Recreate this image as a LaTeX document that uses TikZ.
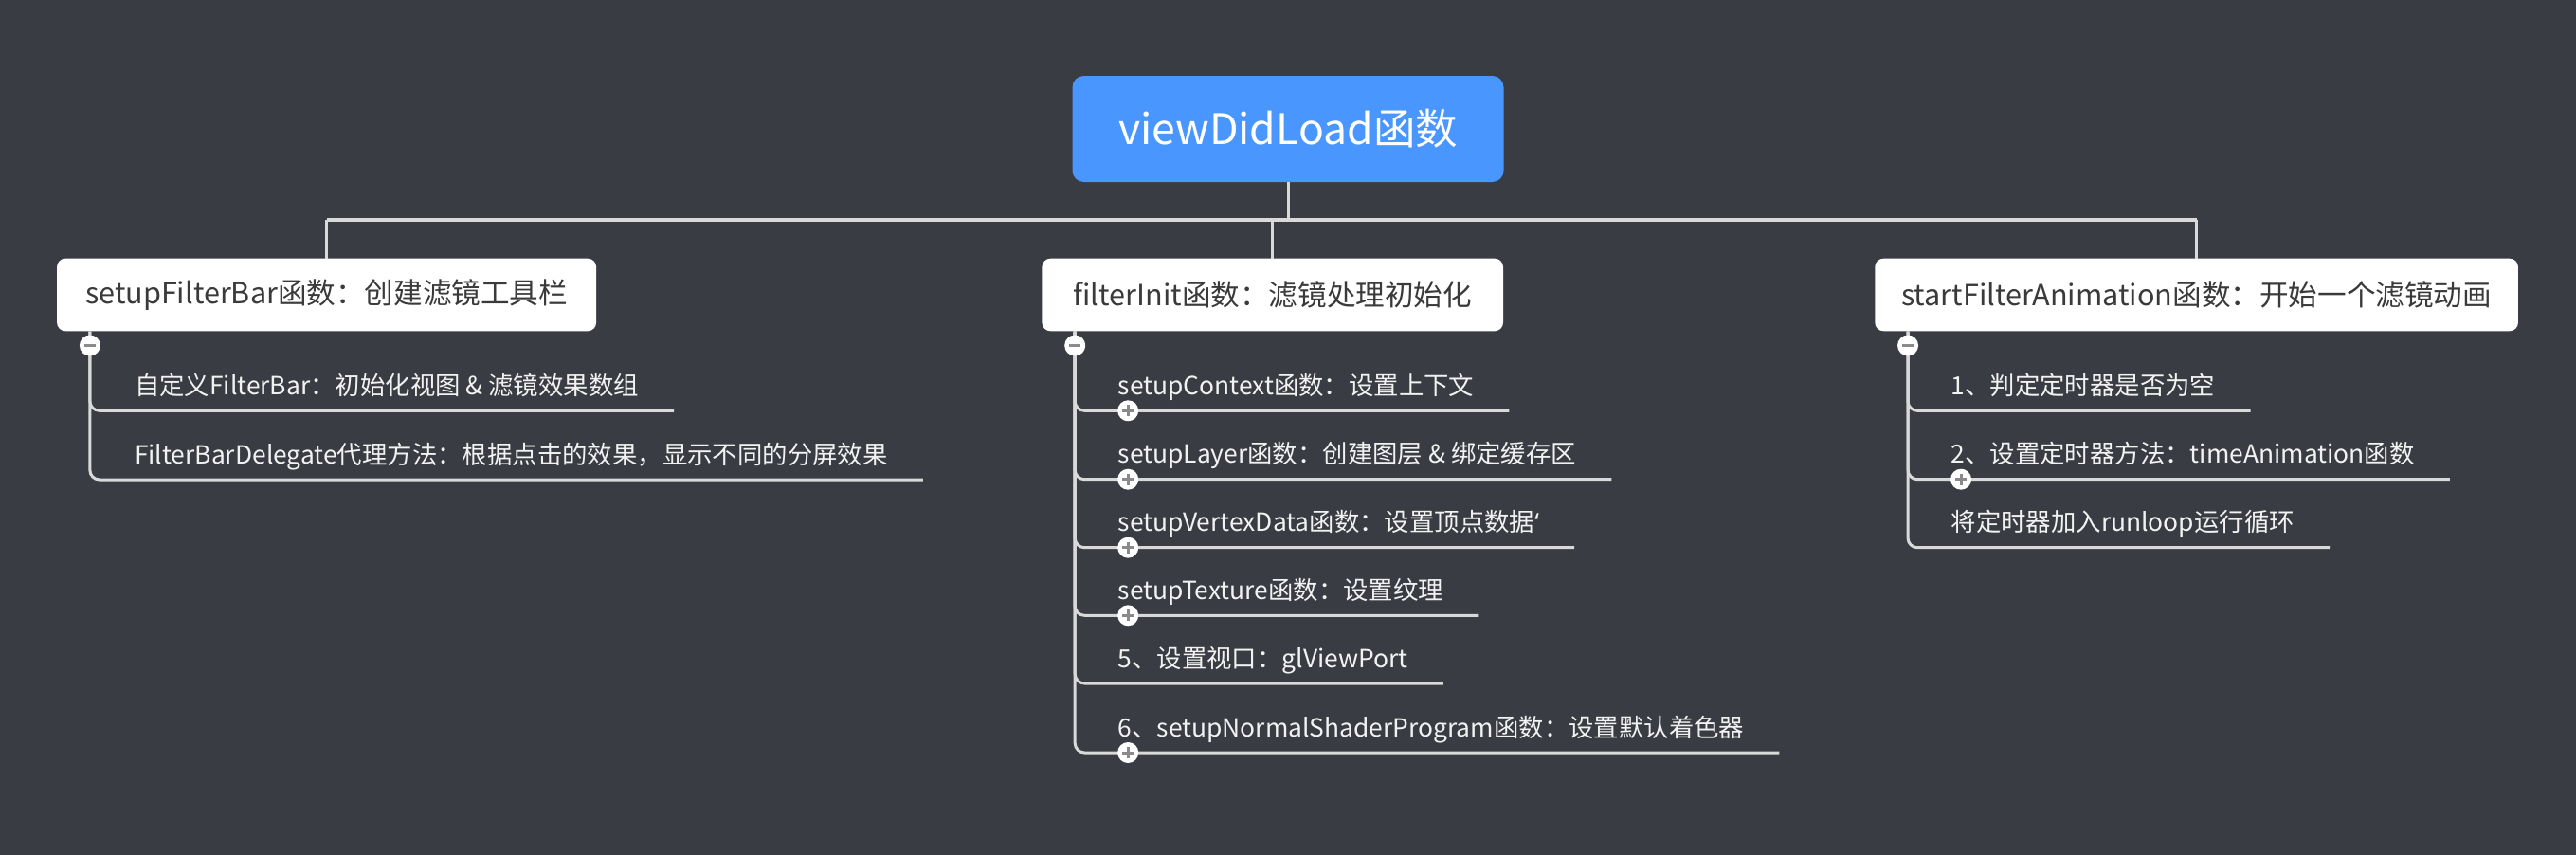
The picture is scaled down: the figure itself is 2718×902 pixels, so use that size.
\documentclass[tikz,border=0pt]{standalone}
\usepackage{fontspec}
\setmainfont{Noto Sans CJK SC}
\newfontfamily\latinfont{Noto Sans}
\usetikzlibrary{calc}
\definecolor{bgcol}{HTML}{393C42}
\definecolor{rootblue}{HTML}{4A96FF}
\definecolor{boxtext}{HTML}{3A3A3A}
\definecolor{leaftext}{HTML}{F2F2F2}
\definecolor{linegray}{HTML}{D9D9D9}
\definecolor{signgray}{HTML}{8A8A8A}
\begin{document}
\begin{tikzpicture}[x=1pt,y=-1pt,
  rootbox/.style={rectangle, rounded corners=12pt, fill=rootblue, text=white, minimum width=455pt, minimum height=112pt, inner sep=0pt, font=\fontsize{44.5}{53}\selectfont},
  topicbox/.style={rectangle, rounded corners=9pt, fill=white, text=boxtext, minimum height=76.6pt, inner sep=0pt, font=\fontsize{30.6}{37}\selectfont},
  leaf/.style={anchor=south west, inner sep=0pt, text=leaftext, text height=20pt, text depth=16.6pt, font=\fontsize{26.4}{32}\selectfont},
  link/.style={draw=linegray, line width=3pt},
  bus/.style={draw=linegray, line width=4pt},
  branch/.style={draw=linegray, line width=3pt, rounded corners=10pt},
  toggle/.style={circle, fill=white, minimum size=22pt, inner sep=0pt},
  toggleminus/.style={toggle, path picture={\draw[signgray, line width=3pt] ([xshift=-6pt]path picture bounding box.center) -- ([xshift=6pt]path picture bounding box.center);}},
  toggleplus/.style={toggle, path picture={\draw[signgray, line width=3pt] ([xshift=-6pt]path picture bounding box.center) -- ([xshift=6pt]path picture bounding box.center) ([yshift=-6pt]path picture bounding box.center) -- ([yshift=6pt]path picture bounding box.center);}},
]
\fill[bgcol] (0,0) rectangle (2718,902);
\useasboundingbox (0,0) rectangle (2718,902);

% root and topics
\node[rootbox] (root) at (1359,136) {viewDidLoad函数};
\node[topicbox, minimum width=569pt] (c1) at (344.6,311) {setupFilterBar函数：创建滤镜工具栏};
\node[topicbox, minimum width=486.6pt] (c2) at (1342.7,311) {filterInit函数：滤镜处理初始化};
\node[topicbox, minimum width=678.7pt] (c3) at (2317.6,311) {startFilterAnimation函数：开始一个滤镜动画};

\coordinate (busy) at (0,231.7);
\draw[link] (root.south) -- (root.south |- busy);
\draw[bus] (c1.north |- busy) -- (c3.north |- busy);
\draw[link] (c1.north |- busy) -- (c1.north);
\draw[link] (c2.north |- busy) -- (c2.north);
\draw[link] (c3.north |- busy) -- (c3.north);

\coordinate (b1) at ([xshift=35pt]c1.south west);
\coordinate (b2) at ([xshift=35pt]c2.south west);
\coordinate (b3) at ([xshift=35pt]c3.south west);

% leaves of topic 1
\node[leaf] (l11) at (141.8,433.3) {自定义FilterBar：初始化视图 \& 滤镜效果数组};
\node[leaf] (l12) at (141.8,506) {FilterBarDelegate代理方法：根据点击的效果，显示不同的分屏效果};
% leaves of topic 2
\node[leaf] (l21) at (1179.5,433.3) {setupContext函数：设置上下文};
\node[leaf] (l22) at (1179.5,505.7) {setupLayer函数：创建图层 \& 绑定缓存区};
\node[leaf] (l23) at (1179.5,577.7) {setupVertexData函数：设置顶点数据{\latinfont ‘}};
\node[leaf] (l24) at (1179.5,649.3) {setupTexture函数：设置纹理};
\node[leaf] (l25) at (1179.5,721) {5、设置视口：glViewPort};
\node[leaf] (l26) at (1179.5,794) {6、setupNormalShaderProgram函数：设置默认着色器};
% leaves of topic 3
\node[leaf] (l31) at (2058.5,433.3) {1、判定定时器是否为空};
\node[leaf] (l32) at (2058.5,505.7) {2、设置定时器方法：timeAnimation函数};
\node[leaf] (l33) at (2058.5,577.7) {将定时器加入runloop运行循环};

\foreach \l in {l11,l12} \draw[branch] (b1) |- ([xshift=37pt]\l.south east);
\foreach \l in {l21,l22,l23,l24,l25,l26} \draw[branch] (b2) |- ([xshift=37pt]\l.south east);
\foreach \l in {l31,l32,l33} \draw[branch] (b3) |- ([xshift=37pt]\l.south east);

% collapse / expand markers
\node[toggleminus] (t1) at ($(b1)+(0,15)$) {};
\node[toggleminus] (t2) at ($(b2)+(0,15)$) {};
\node[toggleminus] (t3) at ($(b3)+(0,15)$) {};
\foreach \l in {l21,l22,l23,l24,l26} \node[toggleplus] (p\l) at ($(b2 |- \l.south)+(56,0)$) {};
\node[toggleplus] (pl32) at ($(b3 |- l32.south)+(56,0)$) {};
\end{tikzpicture}
\end{document}
